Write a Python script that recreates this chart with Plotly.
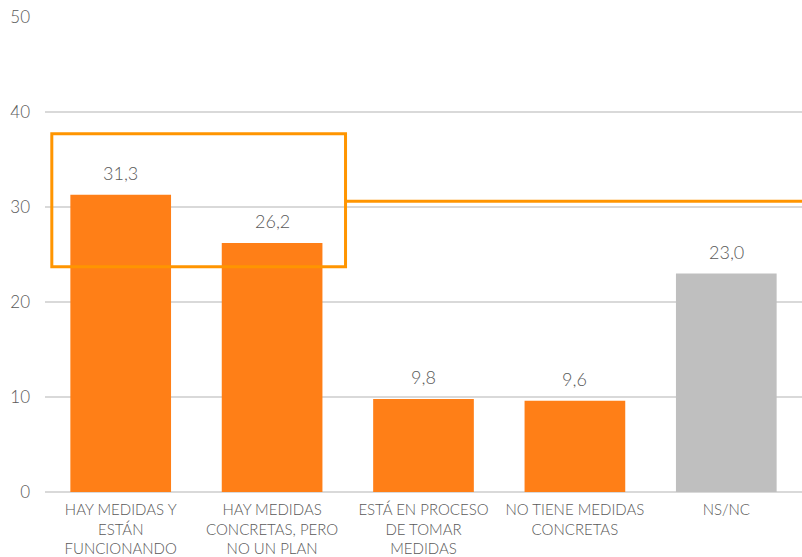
import plotly.graph_objects as go

# Survey answers and percentages
categories = [
    "HAY MEDIDAS Y<br>ESTÁN<br>FUNCIONANDO",
    "HAY MEDIDAS<br>CONCRETAS, PERO<br>NO UN PLAN",
    "ESTÁ EN PROCESO<br>DE TOMAR<br>MEDIDAS",
    "NO TIENE MEDIDAS<br>CONCRETAS",
    "NS/NC",
]
values = [31.3, 26.2, 9.8, 9.6, 23.0]
bar_colors = ["#FF7F17", "#FF7F17", "#FF7F17", "#FF7F17", "#BFBFBF"]
y_ticks = [0, 10, 20, 30, 40, 50]

# Highlight box around the first two answers and the reference line it opens onto
highlight_low, highlight_high = 23.7, 37.7
highlight_line = 30.6

FONT = "Lato"
TEXT_COLOR = "#595959"
HIGHLIGHT = "#FF9500"

x_idx = list(range(len(categories)))

fig = go.Figure(
    go.Bar(
        x=x_idx,
        y=values,
        marker=dict(color=bar_colors, line=dict(width=0)),
        width=0.665,
        hoverinfo="skip",
    )
)

# Value labels above each bar
for i, v in enumerate(values):
    fig.add_annotation(
        x=i, y=v, text=f"{v:.1f}".replace(".", ","),
        showarrow=False, yanchor="bottom", yshift=9,
        font=dict(family=FONT, size=18, color=TEXT_COLOR, weight=300),
    )

fig.add_shape(
    type="rect", xref="x", yref="y",
    x0=-0.455, x1=1.485, y0=highlight_low, y1=highlight_high,
    line=dict(color=HIGHLIGHT, width=3), fillcolor="rgba(0,0,0,0)",
    layer="above",
)
fig.add_shape(
    type="line", xref="x", yref="y",
    x0=1.485, x1=4.5, y0=highlight_line, y1=highlight_line,
    line=dict(color=HIGHLIGHT, width=3), layer="above",
)

fig.update_layout(
    width=802, height=557,
    margin=dict(l=45, r=0, t=17, b=65),
    paper_bgcolor="white", plot_bgcolor="white",
    showlegend=False,
    bargap=0.335,
    font=dict(family=FONT, color=TEXT_COLOR),
    xaxis=dict(
        tickmode="array", tickvals=x_idx, ticktext=categories,
        range=[-0.5, len(categories) - 0.5],
        showgrid=False, zeroline=False, automargin=False,
        showline=False, ticks="", tickangle=0,
        ticklabelstandoff=7,
        tickfont=dict(family=FONT, size=15, color=TEXT_COLOR, weight=300),
    ),
    yaxis=dict(
        range=[0, 50], tickvals=y_ticks, automargin=False,
        showgrid=True, gridcolor="#D9D9D9", gridwidth=1.5,
        zeroline=True, zerolinecolor="#D9D9D9", zerolinewidth=1.5,
        showline=False, ticks="", ticklabelstandoff=14,
        tickfont=dict(family=FONT, size=17, color=TEXT_COLOR, weight=300),
    ),
)

fig.write_html("out.html")
